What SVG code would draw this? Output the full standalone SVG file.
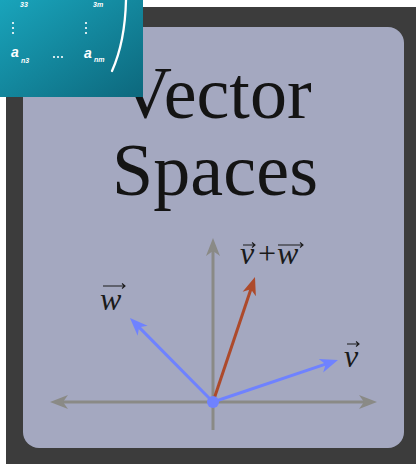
<svg xmlns="http://www.w3.org/2000/svg" width="416" height="464" viewBox="0 0 416 464">
  <style>
    .title { font-family: "Liberation Serif", "Times New Roman", serif; font-size: 74px; fill: #141414; text-anchor: middle; }
    .lbl { font-family: "Liberation Serif", "Times New Roman", serif; font-style: italic; font-size: 32px; fill: #1a1a1a; }
    .acc { fill: none; stroke: #1a1a1a; stroke-width: 1.1; }
    .mat { font-family: "Liberation Sans", Arial, sans-serif; font-style: italic; font-weight: bold; fill: #ffffff; }
    .axis { stroke: #8a8a86; stroke-width: 3; fill: none; }
    .vec { stroke: #6f82ff; stroke-width: 3; fill: none; }
    .sum { stroke: #ad4a2b; stroke-width: 3; fill: none; }
  </style>
  <defs>
    <linearGradient id="teal" x1="0" y1="0" x2="1" y2="1">
      <stop offset="0" stop-color="#19a4bb"/>
      <stop offset="1" stop-color="#0d687d"/>
    </linearGradient>
    <marker id="ahG" markerUnits="userSpaceOnUse" markerWidth="20" markerHeight="16" refX="8" refY="0" viewBox="0 -8 20 16" orient="auto-start-reverse">
      <path d="M18,0 L0,-7 L5,0 L0,7 Z" fill="#8a8a86"/>
    </marker>
    <marker id="ahB" markerUnits="userSpaceOnUse" markerWidth="20" markerHeight="16" refX="8" refY="0" viewBox="0 -8 20 16" orient="auto">
      <path d="M18,0 L0,-7 L5,0 L0,7 Z" fill="#6f82ff"/>
    </marker>
    <marker id="ahR" markerUnits="userSpaceOnUse" markerWidth="20" markerHeight="16" refX="8" refY="0" viewBox="0 -8 20 16" orient="auto">
      <path d="M18,0 L0,-7 L5,0 L0,7 Z" fill="#ad4a2b"/>
    </marker>
  </defs>

  <!-- background -->
  <rect x="0" y="0" width="416" height="464" fill="#ffffff"/>
  <rect x="6" y="7" width="410" height="457" fill="#3c3c3c"/>
  <rect id="panel" x="23" y="27" width="381" height="421" rx="16" fill="#a4a8c0"/>

  <!-- title -->
  <g id="title">
    <text class="title" x="215" y="118">Vector</text>
    <text class="title" x="215" y="195" textLength="206" lengthAdjust="spacing">Spaces</text>
  </g>

  <!-- teal matrix fragment -->
  <g id="matrix">
    <rect x="0" y="0" width="143" height="97" fill="url(#teal)"/>
    <text class="mat" x="20" y="7" font-size="7">33</text>
    <text class="mat" x="93" y="7" font-size="7">3m</text>
    <g fill="#ffffff">
      <circle cx="13" cy="23" r="1.1"/><circle cx="13" cy="28" r="1.1"/><circle cx="13" cy="33" r="1.1"/>
      <circle cx="86" cy="23" r="1.1"/><circle cx="86" cy="28" r="1.1"/><circle cx="86" cy="33" r="1.1"/>
      <circle cx="54" cy="57" r="1.1"/><circle cx="58" cy="57" r="1.1"/><circle cx="62" cy="57" r="1.1"/>
    </g>
    <text class="mat" x="11" y="57" font-size="14">a</text>
    <text class="mat" x="21" y="63" font-size="7">n3</text>
    <text class="mat" x="84" y="58" font-size="14">a</text>
    <text class="mat" x="94" y="62" font-size="7">nm</text>
    <path d="M126,0 Q125,42 112,71" fill="none" stroke="#ffffff" stroke-width="2.3" stroke-linecap="round"/>
  </g>

  <!-- connectors (axes and vectors) -->
  <g id="connectors">
    <line class="axis" x1="60" y1="402" x2="367" y2="402" marker-start="url(#ahG)" marker-end="url(#ahG)"/>
    <line class="axis" x1="213" y1="430" x2="213" y2="248" marker-end="url(#ahG)"/>
    <line class="sum" x1="213" y1="402" x2="251.8" y2="286.5" marker-end="url(#ahR)"/>
    <line class="vec" x1="213" y1="402" x2="328.5" y2="363.2" marker-end="url(#ahB)"/>
    <line class="vec" x1="213" y1="402" x2="137" y2="325.1" marker-end="url(#ahB)"/>
  </g>

  <g id="origin">
    <circle cx="213" cy="402" r="6" fill="#6f82ff"/>
  </g>

  <!-- labels -->
  <g id="label-v">
    <text class="lbl" x="344" y="367">v</text>
    <path class="acc" d="M347,344 L359,344 M356,341.5 L359,344 L356,346.5"/>
  </g>
  <g id="label-w">
    <text class="lbl" x="100" y="310">w</text>
    <path class="acc" d="M103,286 L125,286 M122,283.5 L125,286 L122,288.5"/>
  </g>
  <g id="label-vw">
    <text class="lbl" x="240" y="264">v</text>
    <text class="lbl" x="256" y="264" font-style="normal">+</text>
    <text class="lbl" x="277" y="264">w</text>
    <path class="acc" d="M243,245 L255,245 M252,242.5 L255,245 L252,247.5"/>
    <path class="acc" d="M278,245 L303,245 M300,242.5 L303,245 L300,247.5"/>
  </g>
</svg>
